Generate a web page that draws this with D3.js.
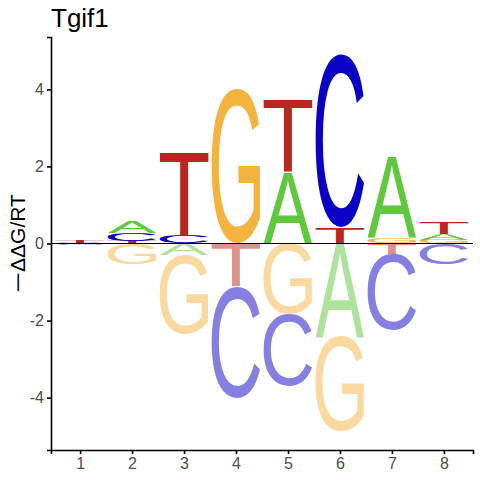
<!DOCTYPE html>
<html>
<head>
<meta charset="utf-8">
<script src="https://cdn.jsdelivr.net/npm/d3@7"></script>
<style>
  body { margin: 0; background: #fff; }
  .axis text { font-family: "Liberation Sans", Arial, sans-serif; font-size: 16px; fill: #4d4d4d; }
  .axis line, .axis path { stroke: #000; }
</style>
</head>
<body>
<div id="logo"></div>
<script>
// Energy logo values (-ddG/RT), one array per base
const positions = [1, 2, 3, 4, 5, 6, 7, 8];
const bases = ["A", "C", "G", "T"];
const energyA = [0.00, 0.30, -0.29, 0.00, 1.82, -2.42, 2.11, 0.16];
const energyC = [-0.05, 0.20, 0.20, -2.88, -1.87, 4.47, -1.97, -0.55];
const energyG = [0.00, -0.55, -2.05, 4.00, -1.83, -2.45, 0.14, 0.09];
const energyT = [0.05, 0.06, 2.16, -1.12, 1.89, 0.41, -0.28, 0.29];
const yTicks = [-4, -2, 0, 2, 4];

const baseColor = { A: "#5fc83c", C: "#0a00c4", G: "#f4b33f", T: "#b9271e" };

const width = 480, height = 480;
const margin = { top: 37, right: 7, bottom: 30, left: 51 };
const labelFont = "Liberation Sans, Arial, sans-serif";

const svg = d3.select("#logo")
  .append("svg")
  .attr("width", width)
  .attr("height", height);

const x = d3.scaleLinear().domain([0.44, 8.56]).range([margin.left, width - margin.right]);
const y = d3.scaleLinear().domain([-5.36, 5.36]).range([height - margin.bottom, margin.top]);

// build the stacks: positive letters go up from 0, negative go down, smallest nearest the axis
const table = {};
bases.forEach((b, k) => { table[b] = [energyA, energyC, energyG, energyT][k]; });

const letters = [];
positions.forEach((p, i) => {
  const vals = bases.map(b => ({ base: b, v: table[b][i] }));
  let up = 0, down = 0;
  vals.filter(d => d.v > 0).sort((a, b) => a.v - b.v).forEach(d => {
    letters.push({ pos: p, base: d.base, y0: up, y1: up + d.v, neg: false });
    up += d.v;
  });
  vals.filter(d => d.v < 0).sort((a, b) => b.v - a.v).forEach(d => {
    letters.push({ pos: p, base: d.base, y0: down + d.v, y1: down, neg: true });
    down += d.v;
  });
});

// tight glyph bounds, so each letter fills its box exactly
const ctx = document.createElement("canvas").getContext("2d");
const glyphFont = "100px 'Liberation Sans'";
const boxes = {};
bases.forEach(b => {
  ctx.font = glyphFont;
  const m = ctx.measureText(b);
  boxes[b] = {
    l: m.actualBoundingBoxLeft, r: m.actualBoundingBoxRight,
    a: m.actualBoundingBoxAscent, d: m.actualBoundingBoxDescent
  };
});

const letterWidth = 0.94;

svg.append("g")
  .selectAll("text")
  .data(letters.filter(d => d.y1 - d.y0 > 0.004))
  .join("text")
  .attr("font-family", "Liberation Sans")
  .attr("font-size", 100)
  .attr("fill", d => baseColor[d.base])
  .attr("fill-opacity", d => d.neg ? 0.5 : 1)
  .attr("transform", d => {
    const g = boxes[d.base];
    const x0 = x(d.pos - letterWidth / 2);
    const w = x(d.pos + letterWidth / 2) - x0;
    const y0 = y(d.y1);
    const h = y(d.y0) - y0;
    return `translate(${x0},${y0}) scale(${w / (g.l + g.r)},${h / (g.a + g.d)}) translate(${g.l},${g.a})`;
  })
  .text(d => d.base);

// zero line
svg.append("line")
  .attr("x1", x.range()[0]).attr("x2", x.range()[1])
  .attr("y1", y(0)).attr("y2", y(0))
  .attr("stroke", "#000")
  .attr("stroke-width", 1);

// axes
svg.append("g")
  .attr("class", "axis")
  .attr("transform", `translate(${margin.left},0)`)
  .call(d3.axisLeft(y).tickValues(yTicks).tickFormat(d => String(d)).tickSizeOuter(0).tickSize(4).tickPadding(3))
  .call(g => g.selectAll("path, line").attr("stroke-width", 1.6));

svg.append("g")
  .attr("class", "axis")
  .attr("transform", `translate(0,${height - margin.bottom})`)
  .call(d3.axisBottom(x).tickValues(positions).tickFormat(d => String(d)).tickSizeOuter(0).tickSize(4).tickPadding(4))
  .call(g => g.selectAll("path, line").attr("stroke-width", 1.6));

// title
svg.append("text")
  .attr("x", 51)
  .attr("y", 27)
  .style("font-family", labelFont)
  .style("font-size", "26px")
  .text("Tgif1");

// y label: a wide minus, then the rest
const ylab = svg.append("g")
  .attr("transform", `translate(25,${y(0)}) rotate(-90)`)
  .style("font-family", labelFont)
  .style("font-size", "21px");
const minusStretch = 1.7;
const minus = ylab.append("text").text("\u2212");
const rest = ylab.append("text").text("\u0394\u0394G/RT");
const mw = minus.node().getComputedTextLength() * minusStretch;
const rw = rest.node().getComputedTextLength();
const start = -(mw + rw) / 2;
minus.attr("transform", `translate(${start},0) scale(${minusStretch},1)`);
rest.attr("x", start + mw);
</script>
</body>
</html>
